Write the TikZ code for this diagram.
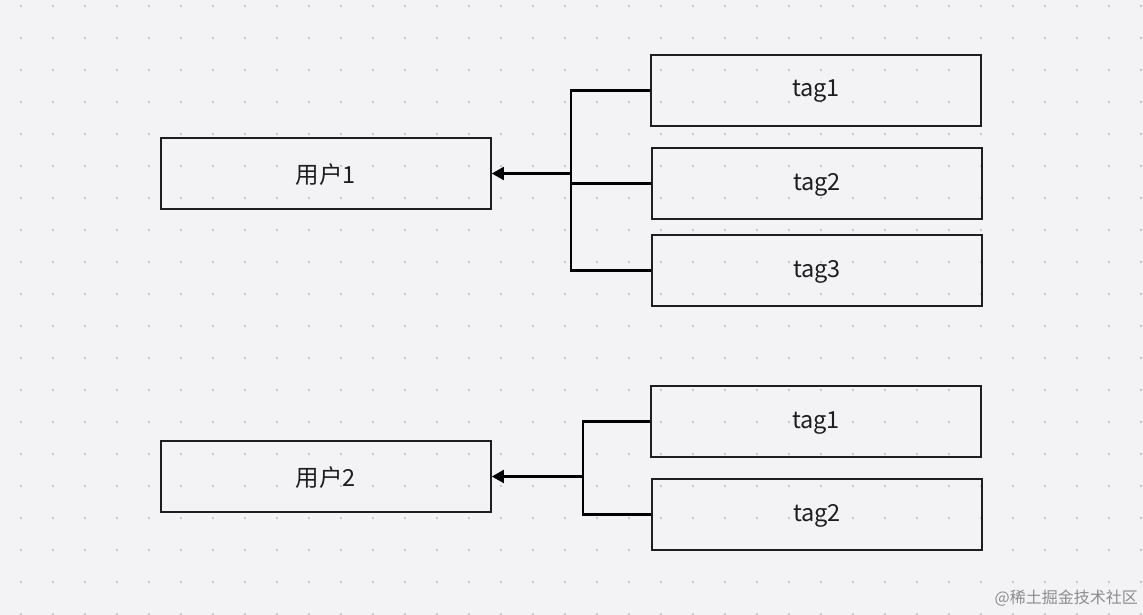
\documentclass[tikz,border=0pt]{standalone}
\usepackage{fontspec}
\setmainfont{Noto Sans CJK SC}
\usetikzlibrary{arrows.meta}
\definecolor{bg}{HTML}{F3F3F5}
\definecolor{dotc}{HTML}{C8C8CA}
\definecolor{linec}{HTML}{1E1E1E}
\begin{document}
\begin{tikzpicture}[x=1pt,y=-1pt,
  box/.style={draw=linec,line width=1.8pt,minimum width=330pt,minimum height=71pt,inner sep=0pt,font=\fontsize{23.5}{26}\selectfont,text=linec},
  tagbox/.style={box,text height=18pt,text depth=5pt},
  userbox/.style={box,text height=21pt,text depth=2pt},
  conn/.style={draw=black,line width=2.2pt},
  arr/.style={conn,-{Triangle[length=12pt,width=13pt]}}]
\fill[bg] (0,0) rectangle (1143,615);
\useasboundingbox (0,0) rectangle (1143,615);
\foreach \i in {0,...,35}{\foreach \j in {0,...,19}{
  \fill[dotc] (21+32*\i-1,6+32*\j-1) rectangle ++(2,2);}}
% group 1
\node[userbox] (u1) at (326,173.5) {用户1};
\node[tagbox] (t1) at (816,90.5) {tag1};
\node[tagbox] (t2) at (817,183.5) {tag2};
\node[tagbox] (t3) at (817,270.5) {tag3};
\coordinate (j1) at (571,173.5);
\draw[conn] (t1.west) -| (571,173.5) |- (t3.west);
\draw[conn] (t2.west) -- (571,183.5);
\draw[arr] (j1) -- (u1.east);
% group 2
\node[userbox] (u2) at (326,476.5) {用户2};
\node[tagbox] (s1) at (816,421.5) {tag1};
\node[tagbox] (s2) at (817,514.5) {tag2};
\coordinate (j2) at (583,476.5);
\draw[conn] (s1.west) -| (j2) |- (s2.west);
\draw[arr] (j2) -- (u2.east);
\node[anchor=east,text=black!45,font=\fontsize{16}{18}\selectfont,inner sep=0pt] (wm) at (1138,598) {@稀土掘金技术社区};
\end{tikzpicture}
\end{document}
